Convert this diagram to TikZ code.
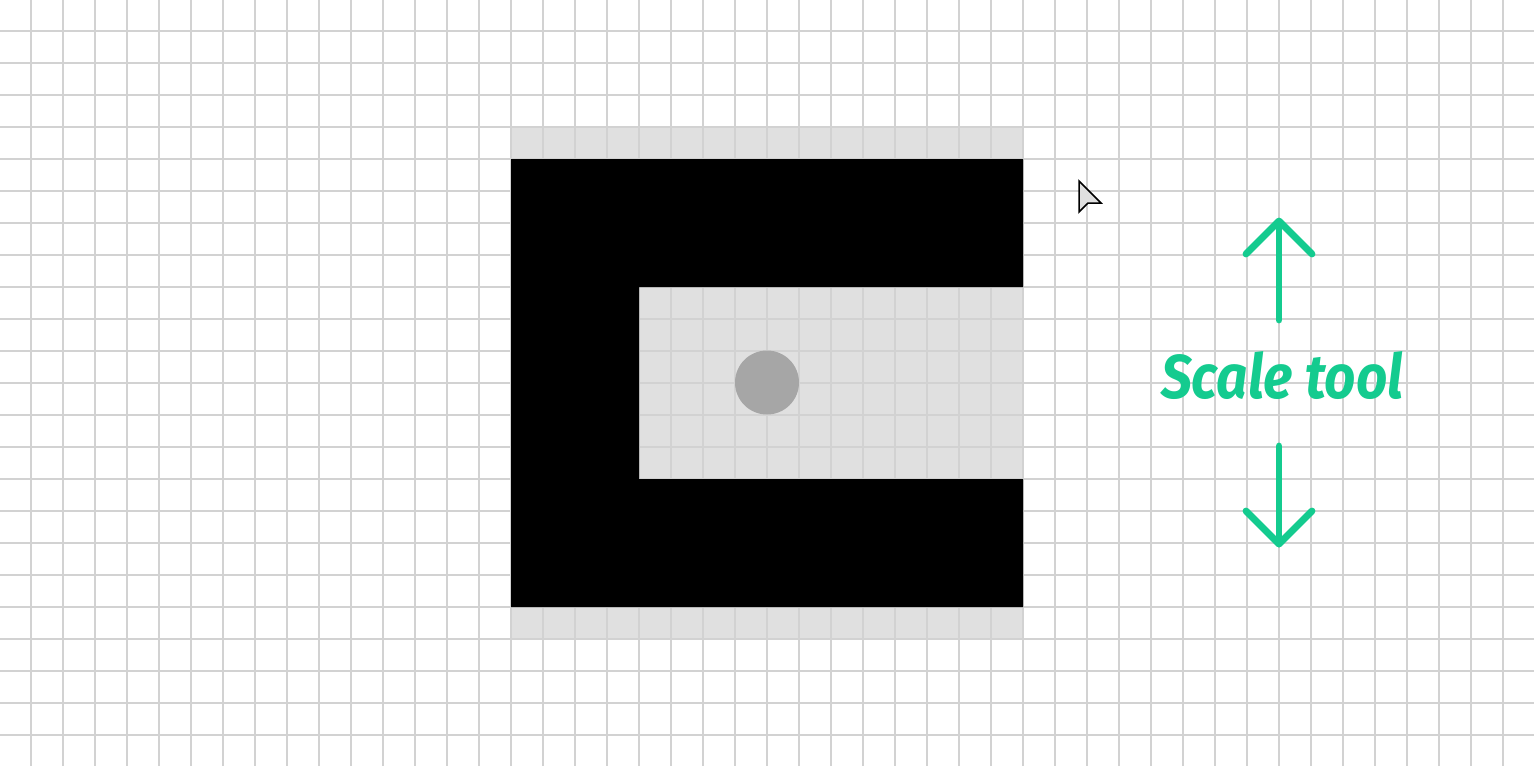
\documentclass[tikz,border=0pt]{standalone}
\usepackage{fontspec}
\newfontfamily\labelfont{Fira Sans}
\definecolor{gridgray}{HTML}{D2D2D2}
\definecolor{lightfill}{HTML}{E0E0E0}
\definecolor{dotgray}{HTML}{A6A6A6}
\definecolor{mint}{HTML}{14CB8F}
\tikzset{
  gridline/.style={draw=gridgray, line width=1.4pt},
  lightarea/.style={fill=lightfill},
  greenarrow/.style={draw=mint, line width=6.8pt, line cap=round, line join=round},
}
\begin{document}
\begin{tikzpicture}[x=1pt,y=-1pt]
\useasboundingbox (0,0) rectangle (1534,766);
\fill[white] (0,0) rectangle (1534,766);
% light gray areas
\fill[lightarea] (511,127) rectangle (1023,159);
\fill[lightarea] (511,607) rectangle (1023,639);
\fill[lightarea] (639,287) rectangle (1023,479);
% grid
\foreach \i in {0,...,46} \draw[gridline] (31+32*\i,0) -- (31+32*\i,766);
\foreach \j in {0,...,22} \draw[gridline] (0,31+32*\j) -- (1534,31+32*\j);
% black C shape
\fill[black] (511,159) -- (1023,159) -- (1023,287) -- (639,287) -- (639,479) -- (1023,479) -- (1023,607) -- (511,607) -- cycle;
% dot
\fill[dotgray] (767,382.5) circle (32);
% cursor
\draw[fill=lightfill, line width=1.5pt, line join=miter] (1079,181) -- (1079,212) -- (1088,203) -- (1101,203) -- cycle;
% arrows
\draw[greenarrow] (1279,320) -- (1279,222);
\draw[greenarrow] (1246,254) -- (1279,221) -- (1312,254);
\draw[greenarrow] (1279,446) -- (1279,544);
\draw[greenarrow] (1246,511) -- (1279,544) -- (1312,511);
% label
\node[anchor=south west, inner sep=0, text=mint] (label) at (1161,400)
  {\resizebox{242pt}{47pt}{\labelfont\bfseries\itshape Scale tool}};
\end{tikzpicture}
\end{document}
